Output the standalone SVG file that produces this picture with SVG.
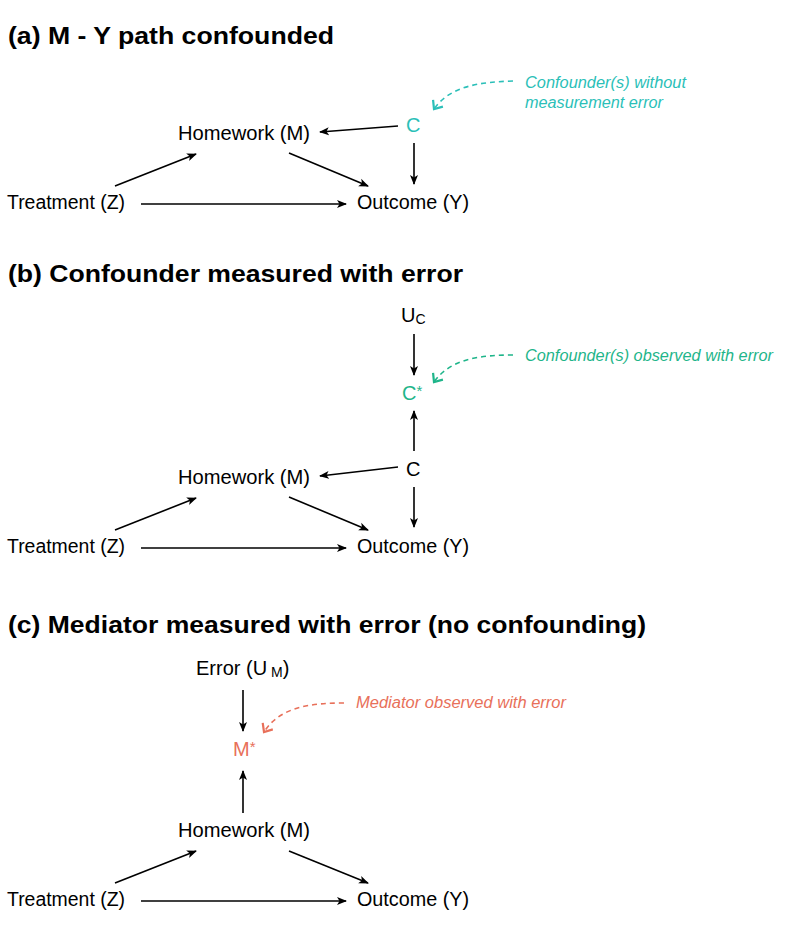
<svg xmlns="http://www.w3.org/2000/svg" width="800" height="932" viewBox="0 0 800 932">
<defs>
<marker id="ah" viewBox="0 0 10 10" refX="9" refY="5" markerWidth="10" markerHeight="10" markerUnits="userSpaceOnUse" orient="auto">
<path d="M0,1 L10,5 L0,9 L2.5,5 Z" fill="#000"/>
</marker>
<marker id="chT" viewBox="0 0 12 14" refX="10" refY="7" markerWidth="12" markerHeight="14" markerUnits="userSpaceOnUse" orient="auto">
<path d="M3,1 L10,7 L3,13" fill="none" stroke="#2bbfb8" stroke-width="2.2"/>
</marker>
<marker id="chG" viewBox="0 0 12 14" refX="10" refY="7" markerWidth="12" markerHeight="14" markerUnits="userSpaceOnUse" orient="auto">
<path d="M3,1 L10,7 L3,13" fill="none" stroke="#1fb58a" stroke-width="2.2"/>
</marker>
<marker id="chR" viewBox="0 0 12 14" refX="10" refY="7" markerWidth="12" markerHeight="14" markerUnits="userSpaceOnUse" orient="auto">
<path d="M3,1 L10,7 L3,13" fill="none" stroke="#e8705a" stroke-width="2.2"/>
</marker>
</defs>
<style>
text{font-family:"Liberation Sans",Arial,sans-serif;}
.t{font-size:23px;font-weight:bold;fill:#000;}
.n{font-size:20px;fill:#000;}
.ann{font-size:16px;font-style:italic;}
.teal{fill:#2bbfb8;}
.green{fill:#1fb58a;}
.coral{fill:#e8705a;}
.e{stroke:#000;stroke-width:1.6;fill:none;marker-end:url(#ah);}
.d{stroke-width:1.6;fill:none;stroke-dasharray:5,4;}
</style>
<rect width="800" height="932" fill="#fff"/>

<text class="t" x="8" y="44" textLength="326" lengthAdjust="spacingAndGlyphs">(a) M - Y path confounded</text>
<text class="t" x="8" y="282" textLength="455" lengthAdjust="spacingAndGlyphs">(b) Confounder measured with error</text>
<text class="t" x="8" y="633" textLength="638" lengthAdjust="spacingAndGlyphs">(c) Mediator measured with error (no confounding)</text>

<!-- Panel a nodes -->
<g id="a-treatment"><text class="n" x="7" y="209" textLength="118" lengthAdjust="spacingAndGlyphs">Treatment (Z)</text></g>
<g id="a-homework"><text class="n" x="178" y="140" textLength="132" lengthAdjust="spacingAndGlyphs">Homework (M)</text></g>
<g id="a-outcome"><text class="n" x="357" y="209" textLength="112" lengthAdjust="spacingAndGlyphs">Outcome (Y)</text></g>
<g id="a-c"><text class="n teal" x="406" y="132">C</text></g>
<g id="a-note"><text class="ann teal" x="525" y="88" textLength="161" lengthAdjust="spacingAndGlyphs">Confounder(s) without</text><text class="ann teal" x="525" y="108" textLength="138" lengthAdjust="spacingAndGlyphs">measurement error</text></g>

<!-- Panel b nodes -->
<g id="b-uc"><text class="n" x="401" y="322">U<tspan font-size="14" dy="2">C</tspan></text></g>
<g id="b-cstar"><text class="n green" x="402" y="400">C<tspan font-size="15" dy="-4">*</tspan></text></g>
<g id="b-note"><text class="ann green" x="525" y="361" textLength="248" lengthAdjust="spacingAndGlyphs">Confounder(s) observed with error</text></g>
<g id="b-c"><text class="n" x="406" y="476">C</text></g>
<g id="b-treatment"><text class="n" x="7" y="553" textLength="118" lengthAdjust="spacingAndGlyphs">Treatment (Z)</text></g>
<g id="b-homework"><text class="n" x="178" y="484" textLength="132" lengthAdjust="spacingAndGlyphs">Homework (M)</text></g>
<g id="b-outcome"><text class="n" x="357" y="553" textLength="112" lengthAdjust="spacingAndGlyphs">Outcome (Y)</text></g>

<!-- Panel c nodes -->
<g id="c-error"><text class="n" x="196" y="675">Error (U<tspan font-size="14" dx="4" dy="2">M</tspan><tspan dy="-2">)</tspan></text></g>
<g id="c-mstar"><text class="n coral" x="233" y="756">M<tspan font-size="15" dy="-4">*</tspan></text></g>
<g id="c-note"><text class="ann coral" x="356" y="708" textLength="210" lengthAdjust="spacingAndGlyphs">Mediator observed with error</text></g>
<g id="c-homework"><text class="n" x="178" y="837" textLength="132" lengthAdjust="spacingAndGlyphs">Homework (M)</text></g>
<g id="c-treatment"><text class="n" x="7" y="906" textLength="118" lengthAdjust="spacingAndGlyphs">Treatment (Z)</text></g>
<g id="c-outcome"><text class="n" x="357" y="906" textLength="112" lengthAdjust="spacingAndGlyphs">Outcome (Y)</text></g>

<g id="connectors">
<!-- a -->
<line class="e" x1="115" y1="186" x2="196" y2="154"/>
<line class="e" x1="289" y1="153" x2="368" y2="186"/>
<line class="e" x1="141" y1="204" x2="346" y2="204"/>
<line class="e" x1="398" y1="126" x2="320" y2="132"/>
<line class="e" x1="414" y1="143" x2="414" y2="184"/>
<path class="d" stroke="#2bbfb8" marker-end="url(#chT)" d="M513,81 C480,82 450,86 434,109"/>
<!-- b -->
<line class="e" x1="414" y1="334" x2="414" y2="375"/>
<line class="e" x1="414" y1="451" x2="414" y2="411"/>
<path class="d" stroke="#1fb58a" marker-end="url(#chG)" d="M513,355 C480,355 450,359 434,382"/>
<line class="e" x1="398" y1="467" x2="320" y2="476"/>
<line class="e" x1="414" y1="487" x2="414" y2="527"/>
<line class="e" x1="115" y1="530" x2="196" y2="498"/>
<line class="e" x1="289" y1="497" x2="368" y2="530"/>
<line class="e" x1="141" y1="548" x2="346" y2="548"/>
<!-- c -->
<line class="e" x1="243" y1="690" x2="243" y2="731"/>
<line class="e" x1="243" y1="813" x2="243" y2="771"/>
<path class="d" stroke="#e8705a" marker-end="url(#chR)" d="M344,703 C310,703 280,707 264,732"/>
<line class="e" x1="115" y1="883" x2="196" y2="851"/>
<line class="e" x1="289" y1="851" x2="368" y2="883"/>
<line class="e" x1="141" y1="901" x2="346" y2="901"/>
</g>
</svg>
